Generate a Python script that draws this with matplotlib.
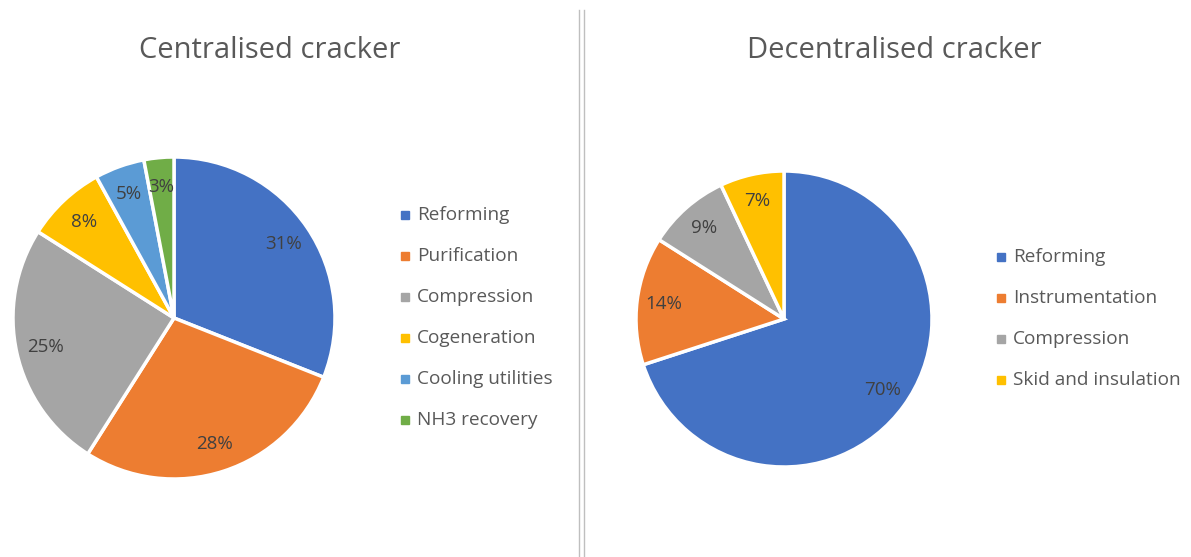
import matplotlib
matplotlib.use("Agg")
import matplotlib.pyplot as plt
from matplotlib.lines import Line2D

plt.rcParams['font.family'] = ['Open Sans', 'DejaVu Sans']

left_labels = ["Reforming", "Purification", "Compression", "Cogeneration", "Cooling utilities", "NH3 recovery"]
left_values = [31, 28, 25, 8, 5, 3]
left_colors = ["#4472C4", "#ED7D31", "#A5A5A5", "#FFC000", "#5B9BD5", "#70AD47"]

right_labels = ["Reforming", "Instrumentation", "Compression", "Skid and insulation"]
right_values = [70, 14, 9, 7]
right_colors = ["#4472C4", "#ED7D31", "#A5A5A5", "#FFC000"]

W, H = 1191, 557
fig = plt.figure(figsize=(W / 100, H / 100), dpi=100)

def px_axes(cx, cy, r):
    return fig.add_axes([(cx - r) / W, 1 - (cy + r) / H, 2 * r / W, 2 * r / H])

def draw(ax, vals, cols):
    wedges, texts = ax.pie(vals, colors=cols, startangle=90, counterclock=False,
                           labels=[f"{v}%" for v in vals], labeldistance=0.82,
                           wedgeprops=dict(edgecolor="white", linewidth=2.5),
                           textprops=dict(color="#404040", fontsize=13.5))
    for t in texts:
        t.set_horizontalalignment("center")
        t.set_verticalalignment("center")
    ax.set_xlim(-1, 1)
    ax.set_ylim(-1, 1)
    ax.set_aspect("equal")
    return wedges

ax1 = px_axes(174, 318, 161)
draw(ax1, left_values, left_colors)
ax2 = px_axes(784, 319, 148)
draw(ax2, right_values, right_colors)

fig.text(270 / W, 1 - 50 / H, "Centralised cracker", ha="center", va="center",
         fontsize=21, color="#595959")
fig.text(894 / W, 1 - 50 / H, "Decentralised cracker", ha="center", va="center",
         fontsize=21, color="#595959")

def legend(labels, cols, x, y0, dy):
    for i, (lab, c) in enumerate(zip(labels, cols)):
        y = y0 + i * dy
        fig.patches.append(plt.Rectangle(((x - 4) / W, 1 - (y + 4) / H), 8 / W, 8 / H,
                                         transform=fig.transFigure, color=c, figure=fig))
        fig.text((x + 12) / W, 1 - y / H, lab, ha="left", va="center",
                 fontsize=13.7, color="#595959")

legend(left_labels, left_colors, 405, 215, 41)
legend(right_labels, right_colors, 1001, 257, 41)

for x in (579, 584):
    fig.add_artist(Line2D([x / W, x / W], [0, 1 - 10 / H], transform=fig.transFigure,
                          color="#BFBFBF", linewidth=1))

fig.savefig("out.png", dpi=100, facecolor="white")
